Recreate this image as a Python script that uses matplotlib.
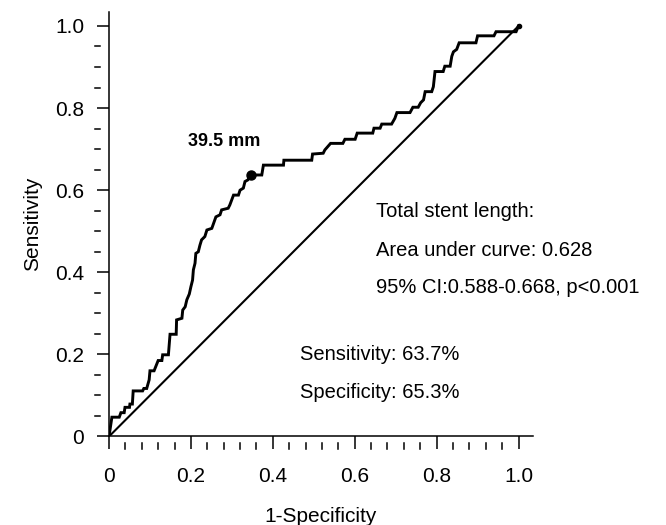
import numpy as np
import matplotlib
matplotlib.use('Agg')
import matplotlib.pyplot as plt
import matplotlib.transforms as mtransforms

# ROC curve (1-specificity, sensitivity)
fpr = [0.0, 0.007, 0.025, 0.029, 0.037, 0.039, 0.050, 0.051, 0.057, 0.059,
       0.082, 0.085, 0.092, 0.098, 0.100, 0.110, 0.120, 0.129, 0.131, 0.145,
       0.149, 0.164, 0.165, 0.178, 0.180, 0.186, 0.190, 0.196, 0.200, 0.204,
       0.206, 0.210, 0.212, 0.218, 0.222, 0.226, 0.234, 0.239, 0.251, 0.261,
       0.271, 0.275, 0.291, 0.295, 0.304, 0.316, 0.320, 0.328, 0.332, 0.339,
       0.347, 0.373, 0.377, 0.426, 0.427, 0.495, 0.497, 0.523, 0.527, 0.541,
       0.571, 0.576, 0.601, 0.606, 0.644, 0.647, 0.662, 0.666, 0.690, 0.698,
       0.703, 0.735, 0.742, 0.755, 0.761, 0.768, 0.772, 0.788, 0.792, 0.796,
       0.816, 0.820, 0.833, 0.837, 0.841, 0.849, 0.855, 0.896, 0.900, 0.940,
       0.945, 0.994, 1.0]
tpr = [0.0, 0.047, 0.047, 0.058, 0.058, 0.071, 0.071, 0.079, 0.079, 0.111,
       0.111, 0.117, 0.117, 0.138, 0.160, 0.160, 0.185, 0.185, 0.199, 0.199,
       0.249, 0.249, 0.284, 0.288, 0.308, 0.316, 0.333, 0.347, 0.365, 0.381,
       0.406, 0.422, 0.446, 0.450, 0.466, 0.479, 0.487, 0.503, 0.507, 0.535,
       0.540, 0.552, 0.556, 0.564, 0.588, 0.588, 0.600, 0.605, 0.621, 0.625,
       0.637, 0.637, 0.661, 0.661, 0.673, 0.673, 0.688, 0.690, 0.698, 0.714,
       0.714, 0.724, 0.724, 0.739, 0.739, 0.751, 0.751, 0.761, 0.761, 0.775,
       0.789, 0.789, 0.802, 0.802, 0.813, 0.820, 0.840, 0.840, 0.852, 0.889,
       0.889, 0.902, 0.902, 0.926, 0.937, 0.943, 0.959, 0.959, 0.976, 0.976,
       0.986, 0.986, 1.0]

cut_label = '39.5 mm'
cut_fpr = 0.347
cut_tpr = 0.637

ref_line = [0.0, 1.0]

ticks = [0, 0.2, 0.4, 0.6, 0.8, 1.0]
tick_labels = ['0', '0.2', '0.4', '0.6', '0.8', '1.0']
x_minor = [0.04, 0.08, 0.12, 0.16, 0.24, 0.28, 0.32, 0.36, 0.44, 0.48, 0.52, 0.56,
           0.64, 0.68, 0.72, 0.76, 0.84, 0.88, 0.92, 0.96]
y_minor = [0.05, 0.1, 0.15, 0.25, 0.3, 0.35, 0.45, 0.5, 0.55, 0.65, 0.7, 0.75,
           0.85, 0.9, 0.95]

plt.rcParams['font.family'] = ['Liberation Sans', 'DejaVu Sans']

fig = plt.figure(figsize=(6.66, 5.25), dpi=100)
ax = fig.add_axes([0.1637, 0.1686, 0.6364, 0.8093])

ax.plot(ref_line, ref_line, color='black', lw=1.5, solid_capstyle='butt')
ax.plot(fpr, tpr, color='black', lw=2.1, solid_joinstyle='miter')
ax.plot([cut_fpr], [cut_tpr], 'o', color='black', ms=6.5)
ax.plot([1.0], [1.0], 'o', color='black', ms=3)

ax.text(0.193, 0.718, cut_label, fontsize=13, fontweight='bold', va='center')
ax.text(0.651, 0.549, 'Total stent length:', fontsize=14.5, va='center')
ax.text(0.651, 0.454, 'Area under curve: 0.628', fontsize=14.5, va='center')
ax.text(0.651, 0.362, '95% CI:0.588-0.668, p<0.001', fontsize=14.5, va='center')
ax.text(0.466, 0.199, 'Sensitivity: 63.7%', fontsize=14.5, va='center')
ax.text(0.466, 0.107, 'Specificity: 65.3%', fontsize=14.5, va='center')

ax.set_xlim(0, 1.035)
ax.set_ylim(0, 1.035)
ax.spines['top'].set_visible(False)
ax.spines['right'].set_visible(False)
for s in ['left', 'bottom']:
    ax.spines[s].set_linewidth(1.1)

ax.set_xticks(ticks)
ax.set_xticklabels(tick_labels)
ax.set_yticks(ticks)
ax.set_yticklabels(tick_labels)
ax.tick_params(axis='both', direction='out', length=9, width=1.1, labelsize=15)
ax.tick_params(axis='x', pad=13)
ax.tick_params(axis='y', pad=9)

# detached minor tick dashes, as in the original
tx = mtransforms.blended_transform_factory(ax.transData, ax.transAxes)
ty = mtransforms.blended_transform_factory(ax.transAxes, ax.transData)
for v in x_minor:
    ax.plot([v, v], [-0.015, -0.030], color='black', lw=1.1, transform=tx, clip_on=False)
for v in y_minor:
    ax.plot([-0.033, -0.021], [v, v], color='black', lw=1.1, transform=ty, clip_on=False)

ax.set_xlabel('1-Specificity', fontsize=15, labelpad=15)
ax.set_ylabel('Sensitivity', fontsize=15, labelpad=9)

fig.savefig('out.png', dpi=100)
